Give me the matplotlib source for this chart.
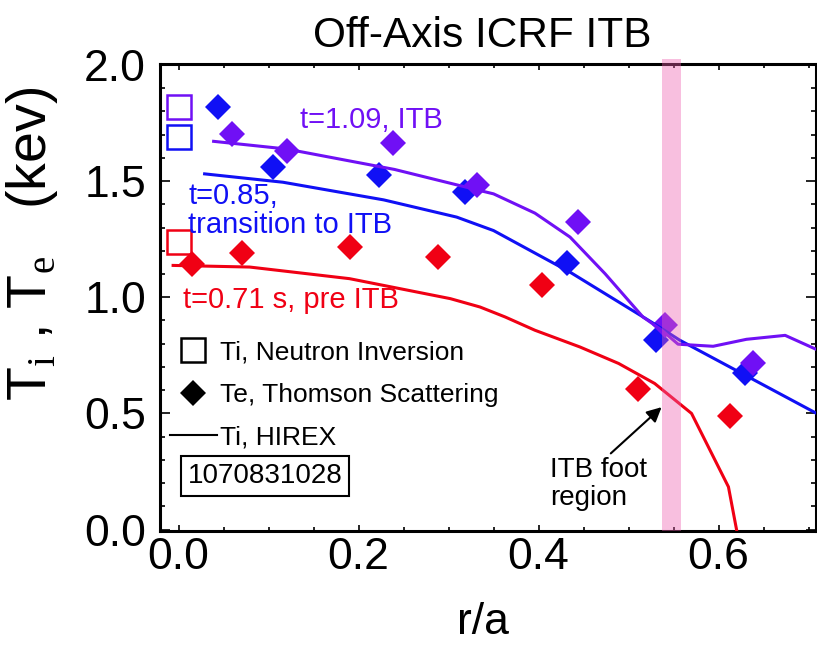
import matplotlib
matplotlib.use("Agg")
import matplotlib.pyplot as plt
from matplotlib.lines import Line2D
from matplotlib.ticker import MultipleLocator

plt.rcParams['font.family'] = ['Liberation Sans', 'DejaVu Sans']
plt.rcParams['mathtext.fontset'] = 'custom'
plt.rcParams['mathtext.rm'] = 'Liberation Serif'

# Ti from neutron inversion (squares at the axis)
r_nis = [0.0, 0.0, 0.0]
ti_nis = [1.236, 1.69, 1.82]

# Te from Thomson scattering
r_ts_071 = [0.015, 0.071, 0.190, 0.288, 0.404, 0.511, 0.613]
te_071 = [1.144, 1.190, 1.216, 1.173, 1.051, 0.607, 0.488]
r_ts_085 = [0.044, 0.105, 0.223, 0.318, 0.432, 0.531, 0.629]
te_085 = [1.820, 1.562, 1.528, 1.452, 1.149, 0.815, 0.672]
r_ts_109 = [0.059, 0.120, 0.238, 0.332, 0.444, 0.540, 0.638]
te_109 = [1.703, 1.631, 1.663, 1.485, 1.323, 0.879, 0.717]

# Ti from HIREX
r_hx_071 = [-0.006, 0.079, 0.190, 0.302, 0.335, 0.363, 0.396, 0.446, 0.489, 0.529, 0.570, 0.611, 0.620]
ti_hx_071 = [1.137, 1.130, 1.080, 0.994, 0.958, 0.915, 0.858, 0.786, 0.715, 0.629, 0.500, 0.184, 0.0]
r_hx_085 = [0.029, 0.116, 0.228, 0.309, 0.350, 0.435, 0.528, 0.557, 0.709]
ti_hx_085 = [1.531, 1.495, 1.419, 1.345, 1.287, 1.108, 0.887, 0.815, 0.500]
r_hx_109 = [0.039, 0.120, 0.240, 0.335, 0.350, 0.396, 0.435, 0.474, 0.516, 0.537, 0.555, 0.594, 0.631, 0.674, 0.709]
ti_hx_109 = [1.671, 1.638, 1.550, 1.459, 1.445, 1.362, 1.259, 1.101, 0.915, 0.858, 0.798, 0.789, 0.819, 0.836, 0.775]

itb_foot = (0.537, 0.558)

RED = '#F00014'
BLUE = '#1010F5'
PURPLE = '#7010F5'

fig = plt.figure(figsize=(8.17, 6.46), dpi=100)
ax = fig.add_axes([0.1958, 0.178, 0.803, 0.723])

# Thomson diamonds first, lines drawn over them
for r, te, c in [(r_ts_071, te_071, RED), (r_ts_085, te_085, BLUE), (r_ts_109, te_109, PURPLE)]:
    ax.plot(r, te, 'D', color=c, ms=13.5, mew=0, zorder=2)

for r, ti, c in [(r_hx_071, ti_hx_071, RED), (r_hx_085, ti_hx_085, BLUE), (r_hx_109, ti_hx_109, PURPLE)]:
    ax.plot(r, ti, '-', color=c, lw=2.2, zorder=3)

for i, c in enumerate([RED, BLUE, PURPLE]):
    ax.plot(r_nis[i], ti_nis[i], 's', mfc='none', mec=c, ms=17, mew=1.8, zorder=3)

# ITB foot region band
ax.axvspan(itb_foot[0], itb_foot[1], ymin=0, ymax=1.01, color=(238/255, 97/255, 177/255),
           alpha=0.4, lw=0, zorder=5, clip_on=False)

ax.set_xlim(-0.0206, 0.7083)
ax.set_ylim(-0.006, 2.004)
ax.xaxis.set_major_locator(MultipleLocator(0.2))
ax.xaxis.set_minor_locator(MultipleLocator(0.05))
ax.yaxis.set_major_locator(MultipleLocator(0.5))
ax.yaxis.set_minor_locator(MultipleLocator(0.1))
ax.xaxis.set_major_formatter(lambda v, p: '%.1f' % v)
ax.yaxis.set_major_formatter(lambda v, p: '%.1f' % v)
ax.tick_params(axis='both', which='both', direction='in', top=True, right=True, width=1.2)
ax.tick_params(axis='x', which='major', length=4.5, pad=4, labelsize=32)
ax.tick_params(axis='x', which='minor', length=3)
ax.tick_params(axis='y', which='major', length=7.2, pad=10, labelsize=32)
ax.tick_params(axis='y', which='minor', length=3.6)
for s in ax.spines.values():
    s.set_linewidth(2.2)

fig.text(0.59, 1 - 47/646, 'Off-Axis ICRF ITB', ha='center', va='baseline', fontsize=30.5)
fig.text(0.5905, 1 - 634/646, 'r/a', ha='center', va='baseline', fontsize=32)
fig.text(32/817, 1 - 244/646, r'T$_\mathrm{i}$ , T$_\mathrm{e}$   (kev)', rotation=90,
         ha='center', va='center', fontsize=40)

ax.text(0.135, 1.764, 't=1.09, ITB', color=PURPLE, fontsize=21, va='center')
ax.text(0.0106, 1.373, 't=0.85,\ntransition to ITB', color=BLUE, fontsize=21, va='center',
        linespacing=1.05)
ax.text(0.005, 0.987, 't=0.71 s, pre ITB', color=RED, fontsize=21, va='center')
ax.text(0.413, 0.196, 'ITB foot\nregion', color='black', fontsize=20, va='center',
        linespacing=1.1, zorder=6)
ax.annotate('', xy=(0.539, 0.535), xytext=(0.478, 0.32),
            arrowprops=dict(arrowstyle='-|>', lw=1.5, color='black', mutation_scale=22), zorder=6)

handles = [
    Line2D([], [], marker='s', ls='none', mfc='none', mec='black', ms=17, mew=1.8),
    Line2D([], [], marker='D', ls='none', color='black', ms=13.5, mew=0),
    Line2D([], [], ls='-', color='black', lw=1.5),
]
labels = ['Ti, Neutron Inversion', 'Te, Thomson Scattering', 'Ti, HIREX']
ax.legend(handles, labels, loc='upper left', bbox_to_anchor=(0.015, 0.408), frameon=False,
          fontsize=19, handlelength=1.78, handletextpad=0.12, labelspacing=0.7,
          borderpad=0, borderaxespad=0)

ax.text(0.16, 0.118, '1070831028', transform=ax.transAxes, fontsize=20, ha='center', va='center',
        bbox=dict(boxstyle='square,pad=0.25', fc='white', ec='black', lw=1.5))

fig.savefig('out.png', dpi=100)
